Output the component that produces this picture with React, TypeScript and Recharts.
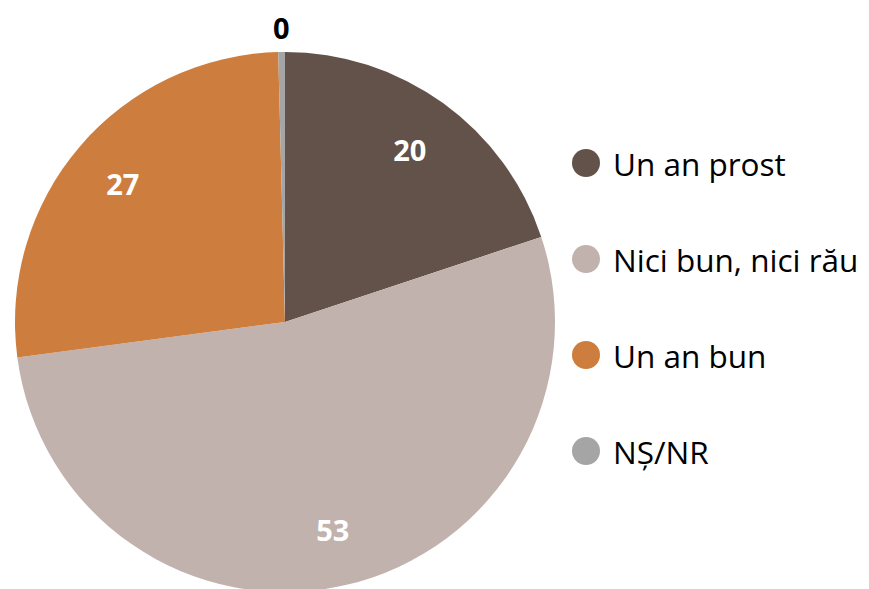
import React from 'react';
import { PieChart, Pie, Cell } from 'recharts';

// categories, values (percent) and the rounded labels shown on the slices
const categories = ['Un an prost', 'Nici bun, nici rău', 'Un an bun', 'NȘ/NR'];
const values = [19.9, 53.0, 26.7, 0.4];
const labels = ['20', '53', '27', '0'];
const colors = ['#63524A', '#C1B2AE', '#CD7D3D', '#A5A5A5'];

const data = categories.map((name, i) => ({ name, value: values[i], label: labels[i] }));

const RAD = Math.PI / 180;
const FONT = '"Open Sans", Lato, sans-serif';

// labels sit inside the slice, except the tiny slice whose label goes outside
function renderLabel(props: any) {
  const { cx, cy, midAngle, outerRadius, index } = props;
  const small = values[index] < 1;
  const r = small ? outerRadius + 25 : outerRadius * 0.79;
  const x = cx + r * Math.cos(-midAngle * RAD);
  const y = cy + r * Math.sin(-midAngle * RAD);
  return (
    <text
      x={x}
      y={y}
      fill={small ? '#000000' : '#FFFFFF'}
      textAnchor="middle"
      dominantBaseline="central"
      fontFamily={FONT}
      fontWeight={700}
      fontSize={29}
    >
      {labels[index]}
    </text>
  );
}

export default function App() {
  return (
    <div style={{ position: 'absolute', left: 0, top: 0, width: 869, height: 589, background: '#fff', overflow: 'hidden' }}>
      <PieChart width={869} height={589} margin={{ top: 0, right: 0, bottom: 0, left: 0 }}>
        <Pie
          data={data}
          dataKey="value"
          nameKey="name"
          cx={285}
          cy={322}
          outerRadius={270}
          startAngle={90}
          endAngle={-270}
          stroke="none"
          label={renderLabel}
          labelLine={false}
          isAnimationActive={false}
        >
          {data.map((d, i) => (
            <Cell key={d.name} fill={colors[i]} />
          ))}
        </Pie>
      </PieChart>
      <div style={{ position: 'absolute', left: 572, top: 140 }}>
        {categories.map((name, i) => (
          <div key={name} style={{ display: 'flex', alignItems: 'center', height: 46, marginBottom: i < 3 ? 50 : 0 }}>
            <span
              style={{
                display: 'inline-block',
                width: 28,
                height: 28,
                borderRadius: '50%',
                background: colors[i],
                marginRight: 13,
              }}
            />
            <span style={{ fontFamily: FONT, fontSize: 31.5, color: '#000' }}>{name}</span>
          </div>
        ))}
      </div>
    </div>
  );
}
